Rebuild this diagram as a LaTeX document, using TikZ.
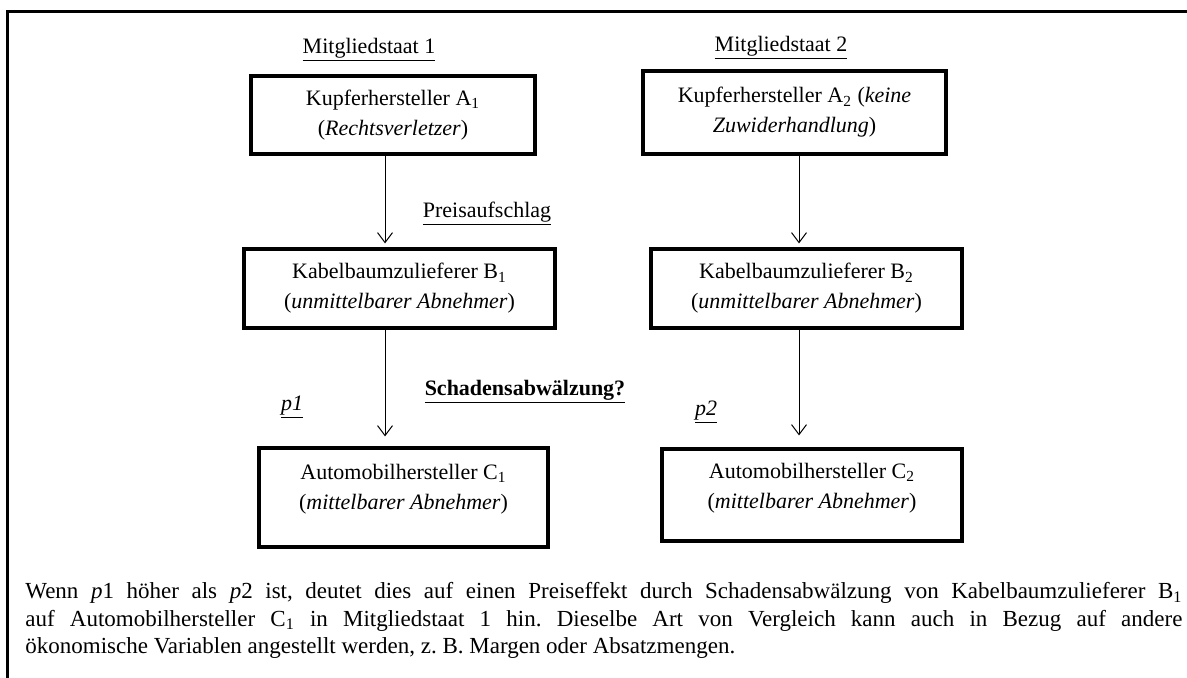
\documentclass[tikz,border=0pt]{standalone}
\usepackage{fontspec}
\setmainfont{Liberation Serif}
\usetikzlibrary{arrows.meta}
\frenchspacing

\begin{document}
\begin{tikzpicture}[x=0.5pt,y=-0.5pt,>={Straight Barb[length=5pt,width=7.5pt]},
                    box/.style={draw,line width=1.6pt,align=center,inner sep=0pt,
                                font=\fontsize{11}{15}\selectfont},
                    lbl/.style={anchor=base,font=\fontsize{11}{13}\selectfont},
                    arr/.style={->,line width=0.5pt}]

  \useasboundingbox (0,0) rectangle (1187,677);
  \draw[line width=1.5pt] (1190,11) -| (7,680);

  % Mitgliedstaat 1
  \node[box,minimum width=142pt,minimum height=39pt]   (a1) at (393,115)
       {Kupferhersteller A\textsubscript{1}\\(\textit{Rechtsverletzer})};
  \node[box,minimum width=155.5pt,minimum height=39.5pt] (b1) at (399.5,288.5)
       {Kabelbaumzulieferer B\textsubscript{1}\\(\textit{unmittelbarer Abnehmer})};
  \node[box,minimum width=144.5pt,minimum height=49.5pt,text depth=11pt] (c1) at (403.5,497.5)
       {Automobilhersteller C\textsubscript{1}\\(\textit{mittelbarer Abnehmer})};

  % Mitgliedstaat 2
  \node[box,minimum width=151.5pt,minimum height=41.5pt] (a2) at (794.5,112.5)
       {Kupferhersteller A\textsubscript{2} (\textit{keine}\\\textit{Zuwiderhandlung})};
  \node[box,minimum width=155.5pt,minimum height=39.5pt] (b2) at (806.5,288.5)
       {Kabelbaumzulieferer B\textsubscript{2}\\(\textit{unmittelbarer Abnehmer})};
  \node[box,minimum width=150pt,minimum height=46pt,text depth=9pt] (c2) at (812,495)
       {Automobilhersteller C\textsubscript{2}\\(\textit{mittelbarer Abnehmer})};

  \node[lbl] (m1) at (369,53)  {\underline{Mitgliedstaat 1}};
  \node[lbl] (m2) at (781,51)  {\underline{Mitgliedstaat 2}};
  \node[lbl] (pa) at (487,217) {\underline{Preisaufschlag}};
  \node[lbl] (sa) at (525,395) {\underline{\textbf{Schadensabwälzung?}}};
  \node[lbl] (p1) at (292,410) {\underline{\textit{p1}}};
  \node[lbl] (p2) at (706,415) {\underline{\textit{p2}}};

  \coordinate (k1) at (385,0);
  \coordinate (k2) at (799,0);
  \draw[arr,shorten >=2pt] (a1.south -| k1) -- (b1.north -| k1);
  \draw[arr,shorten >=2pt] (a2.south -| k2) -- (b2.north -| k2);
  \draw[arr,shorten >=5pt] (b1.south -| k1) -- (c1.north -| k1);
  \draw[arr,shorten >=6pt] (b2.south -| k2) -- (c2.north -| k2);

  \node[anchor=north west,inner sep=0pt,text width=578.5pt,align=justify,
        font=\fontsize{11.5}{13.75}\selectfont] (txt) at (25,582)
       {Wenn \textit{p}1 höher als \textit{p}2 ist, deutet dies auf einen Preiseffekt durch
        Schadensabwälzung von Kabelbaumzulieferer B\textsubscript{1}\linebreak
        auf Automobilhersteller C\textsubscript{1} in Mitgliedstaat 1 hin. Dieselbe Art von
        Vergleich kann auch in Bezug auf andere\linebreak
        ökonomische Variablen angestellt werden, z. B. Margen oder Absatzmengen.};
\end{tikzpicture}
\end{document}
